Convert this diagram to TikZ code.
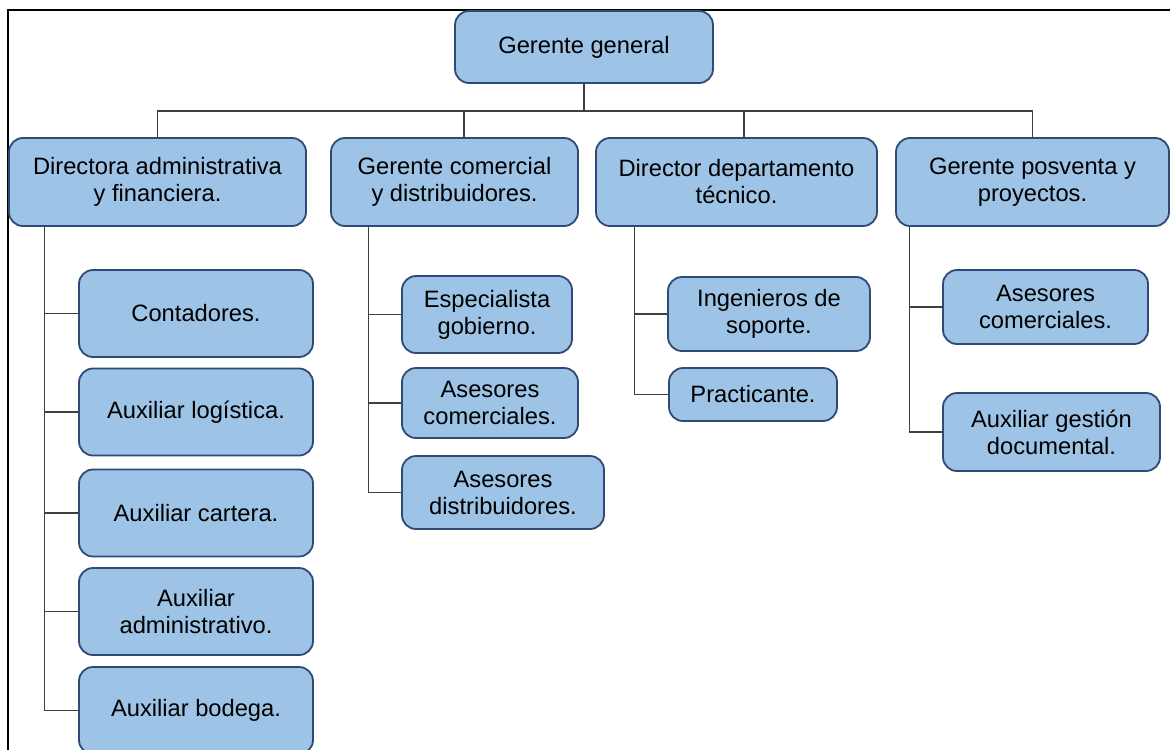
\documentclass[tikz,border=0pt]{standalone}
\usepackage{fontspec}
\setmainfont{Liberation Sans}
\usepackage{tikz}
\usetikzlibrary{positioning,calc}
\definecolor{boxfill}{HTML}{9DC3E6}
\definecolor{boxline}{HTML}{2F4A73}
\definecolor{wire}{HTML}{404040}

\begin{document}
\begin{tikzpicture}[x=0.5pt,y=-0.5pt,
  box/.style={draw=boxline,line width=0.9pt,fill=boxfill,rounded corners=7pt,
              inner sep=0pt,align=center,font=\fontsize{11.85}{13.5}\selectfont},
  head/.style={box,minimum height=44pt},
  sub/.style={box,minimum width=117pt,minimum height=43.5pt},
  link/.style={wire,line width=0.6pt}]
\useasboundingbox (0,0) rectangle (1170,749);
\clip (0,0) rectangle (1170,749);
% frame
\draw[line width=1pt] (8,760) -- (8,10) -- (1180,10);
% top
\node[box,minimum width=129pt,minimum height=36pt] (gg) at (584,47) {Gerente general};
% second level
\node[head,minimum width=148.5pt] (dir) at (157.5,182) {Directora administrativa\\y financiera.};
\node[head,minimum width=123.5pt] (com) at (454.5,182) {Gerente comercial\\y distribuidores.};
\node[head,minimum width=140.5pt] (tec) at (736.5,182) {Director departamento\\técnico.};
\node[head,minimum width=136.5pt] (pos) at (1032.5,182) {Gerente posventa y\\proyectos.};
% directora
\node[sub] (con) at (196,313.5) {Contadores.};
\node[sub] (log) at (196,412)   {Auxiliar logística.};
\node[sub] (car) at (196,513)   {Auxiliar cartera.};
\node[sub] (adm) at (196,611.5) {Auxiliar\\administrativo.};
\node[sub] (bod) at (196,710.5) {Auxiliar bodega.};
% comercial
\node[box,minimum width=85pt,minimum height=38.5pt] (esp) at (487,314.5) {Especialista\\gobierno.};
\node[box,minimum width=88pt,minimum height=35pt]   (ase) at (490,403)   {Asesores\\comerciales.};
\node[box,minimum width=101pt,minimum height=36.5pt] (dis) at (503,492.5) {Asesores\\distribuidores.};
% tecnico
\node[box,minimum width=101pt,minimum height=37pt]  (ing) at (769,314)   {Ingenieros de\\soporte.};
\node[box,minimum width=84pt,minimum height=26.5pt] (pra) at (753,394.5) {Practicante.};
% posventa
\node[box,minimum width=102.5pt,minimum height=37pt] (apc) at (1045.5,307) {Asesores\\comerciales.};
\node[box,minimum width=108.5pt,minimum height=39pt] (doc) at (1051.5,432) {Auxiliar gestión\\documental.};
% connectors
\coordinate (bus) at (584,111);
\draw[link] (gg.south) -- (bus);
\draw[link] (dir.north) |- (bus) -| (pos.north);
\draw[link] ([xshift=4.75pt]com.north) -- ([xshift=4.75pt]com.north |- bus);
\draw[link] ([xshift=3.75pt]tec.north) -- ([xshift=3.75pt]tec.north |- bus);
\coordinate (dirT) at ([xshift=18pt]dir.south west);
\coordinate (comT) at ([xshift=19pt]com.south west);
\coordinate (tecT) at ([xshift=19.5pt]tec.south west);
\coordinate (posT) at ([xshift=7pt]pos.south west);
\draw[link] (dirT) |- (bod.west);
\foreach \c in {con,log,car,adm} \draw[link] (\c.west) -- (\c.west -| dirT);
\draw[link] (comT) |- (dis.west);
\foreach \c in {esp,ase} \draw[link] (\c.west) -- (\c.west -| comT);
\draw[link] (tecT) |- (pra.west);
\draw[link] (ing.west) -- (ing.west -| tecT);
\draw[link] (posT) |- (doc.west);
\draw[link] (apc.west) -- (apc.west -| posT);
\end{tikzpicture}
\end{document}
